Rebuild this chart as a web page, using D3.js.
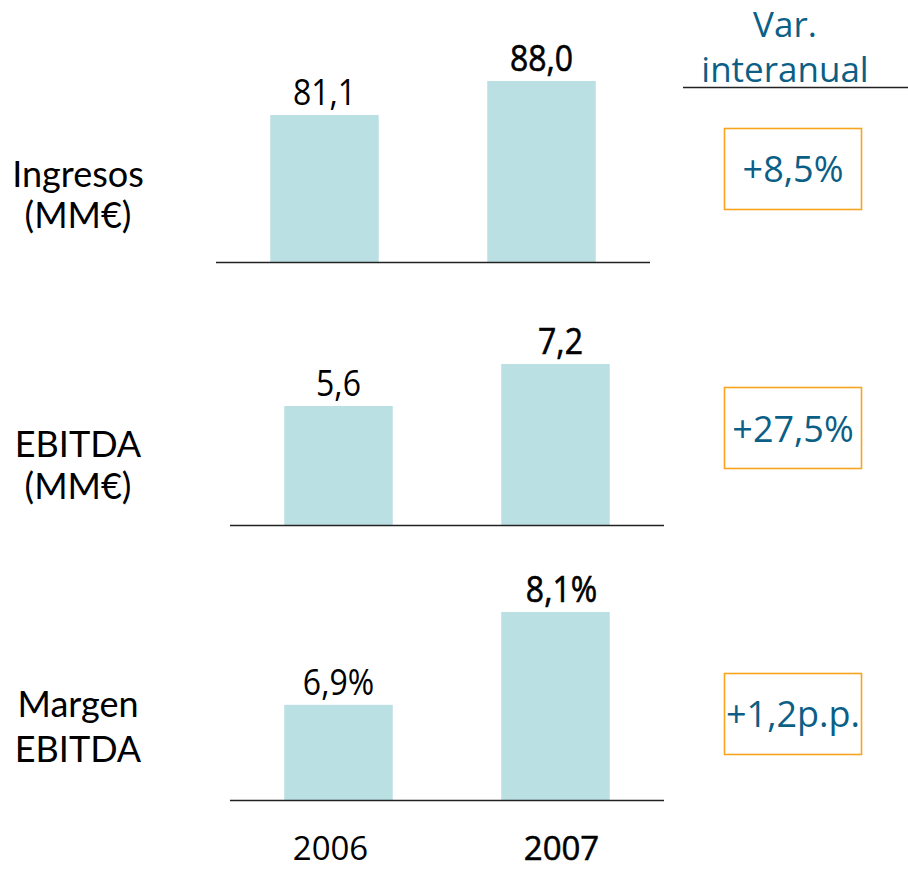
<!DOCTYPE html>
<html>
<head>
<meta charset="utf-8">
<script src="https://cdn.jsdelivr.net/npm/d3@7"></script>
<style>
  html, body { margin: 0; padding: 0; background: #fff; }
  svg { display: block; }
</style>
</head>
<body>
<div id="chart"></div>
<script>
const YEARS = ["2006", "2007"];
const INGRESOS = [81.1, 88.0];
const EBITDA = [5.6, 7.2];
const MARGEN = [6.9, 8.1];
const PANEL_NAMES = [["Ingresos", "(MM€)"], ["EBITDA", "(MM€)"], ["Margen", "EBITDA"]];
const VARIATIONS = ["+8,5%", "+27,5%", "+1,2p.p."];
const AXIS_FLOOR = [51.3, 1.07, 5.67]; // eje truncado de cada panel
const HEADER = ["Var.", "interanual"];

const BAR_COLOR = "#bae0e3";
const BLUE = "#0b5f86";
const ORANGE = "#f7a51f";
const SANS = "'Open Sans', 'Noto Sans', sans-serif";

const loc = d3.formatLocale({ decimal: ",", thousands: ".", grouping: [3], currency: ["", "€"] });
const f1 = loc.format(".1f");

const panels = [
  { values: INGRESOS, suffix: "", base: 262, top: 81, x0: 216, names: [187, 228], box: 128, boxText: 182, dx: 0 },
  { values: EBITDA, suffix: "", base: 525, top: 364, x0: 230, names: [457, 499], box: 387, boxText: 442, dx: 5 },
  { values: MARGEN, suffix: "%", base: 800, top: 612, x0: 230, names: [717, 762], box: 673, boxText: 727, dx: 6 }
];

const W = 908, H = 871;
const svg = d3.select("#chart").append("svg").attr("width", W).attr("height", H);

function txt(g, x, y, s, opts) {
  const t = g.append("text")
    .attr("transform", `translate(${x},${y}) scale(1,${opts.sy || 1})`)
    .attr("text-anchor", "middle")
    .style("font-family", opts.font || SANS)
    .style("font-size", (opts.size || 30) + "px")
    .style("fill", opts.color || "#000")
    .text(s);
  // el 2007 va algo más grueso
  if (opts.heavy) t.style("stroke", opts.color || "#000").style("stroke-width", 0.55);
  return t;
}

panels.forEach((p, i) => {
  const g = svg.append("g");
  const x = d3.scaleBand().domain(YEARS).range([p.x0, p.x0 + 434]).paddingInner(0.5).paddingOuter(0.25);
  const y = d3.scaleLinear().domain([AXIS_FLOOR[i], d3.max(p.values)]).range([p.base, p.top]);

  g.selectAll("rect")
    .data(p.values)
    .enter()
    .append("rect")
    .attr("x", (d, j) => x(YEARS[j]))
    .attr("width", x.bandwidth())
    .attr("y", d => y(d))
    .attr("height", d => p.base - y(d))
    .attr("fill", BAR_COLOR);

  g.append("line")
    .attr("x1", p.x0).attr("x2", p.x0 + 434)
    .attr("y1", p.base + 0.5).attr("y2", p.base + 0.5)
    .attr("stroke", "#222").attr("stroke-width", 1.3);

  p.values.forEach((v, j) => {
    txt(g, x(YEARS[j]) + x.bandwidth() / 2 + (j ? p.dx : 0), y(v) - 10, f1(v) + p.suffix,
      { size: 32, sy: 1.15, heavy: j === 1 });
  });

  // nombre del panel
  PANEL_NAMES[i].forEach((s, k) => {
    txt(g, 78, p.names[k], s, { font: "Lato, 'DejaVu Sans', sans-serif", size: 36 });
  });

  // caja de variación
  g.append("rect")
    .attr("x", 724.5).attr("y", p.box + 0.5)
    .attr("width", 137).attr("height", 81)
    .attr("fill", "none").attr("stroke", ORANGE).attr("stroke-width", 1.6);
  txt(g, 793, p.boxText, VARIATIONS[i], { color: BLUE, size: 36 });

  if (i === panels.length - 1) {
    YEARS.forEach((yr, j) => {
      txt(g, x(yr) + x.bandwidth() / 2 + (j ? 6 : -8), 860, yr, { size: 33, heavy: j === 1 });
    });
  }
});

// cabecera
txt(svg, 785, 37, HEADER[0], { color: BLUE, size: 35 });
txt(svg, 785, 82, HEADER[1], { color: BLUE, size: 35 });
svg.append("line")
  .attr("x1", 683).attr("x2", 908)
  .attr("y1", 87.5).attr("y2", 87.5)
  .attr("stroke", "#222").attr("stroke-width", 1.3);
</script>
</body>
</html>
